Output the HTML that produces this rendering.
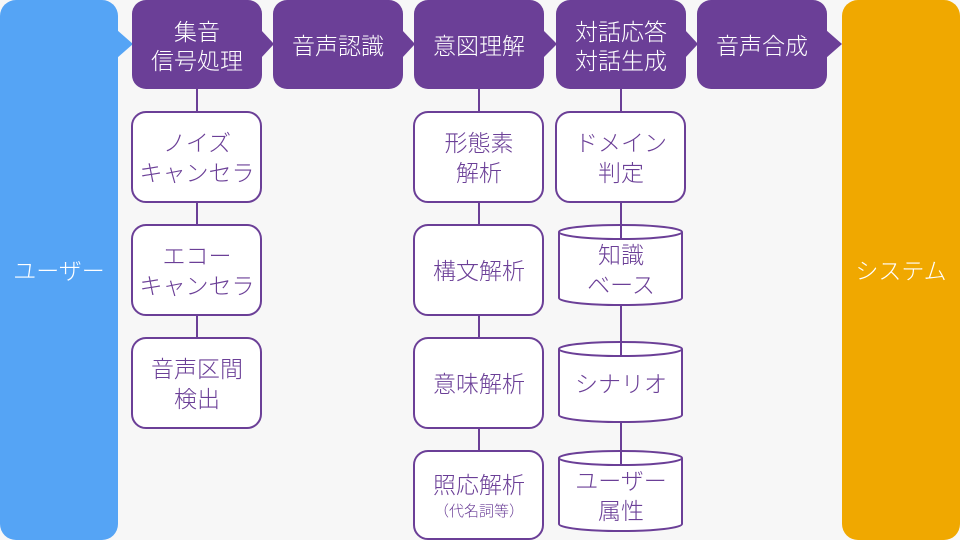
<!DOCTYPE html>
<html><head><meta charset="utf-8"><style>
html,body{margin:0;padding:0;background:#f7f7f7;}
svg{display:block;font-family:"Liberation Sans","Noto Sans CJK JP",sans-serif;}
</style></head><body>
<svg width="960" height="540" viewBox="0 0 960 540" xmlns="http://www.w3.org/2000/svg">
<rect width="960" height="540" fill="#f7f7f7"/>
<rect x="0" y="0" width="118" height="540" rx="16" fill="#55a4f5"/>
<rect x="842" y="0" width="118" height="540" rx="16" fill="#f0a800"/>
<polygon points="117,30 133,44 117,58" fill="#55a4f5"/>
<g fill="#6b3f97">
<rect x="132" y="0" width="130" height="89" rx="14"/>
<rect x="273" y="0" width="130" height="89" rx="14"/>
<rect x="414" y="0" width="130" height="89" rx="14"/>
<rect x="556" y="0" width="130" height="89" rx="14"/>
<rect x="697" y="0" width="130" height="89" rx="14"/>
<polygon points="261,30 274,44 261,58"/>
<polygon points="402,30 415,44 402,58"/>
<polygon points="543,30 557,44 543,58"/>
<polygon points="685,30 698,44 685,58"/>
<polygon points="826,30 842,44 826,58"/>
</g>
<g fill="#fff" font-size="23" text-anchor="middle" font-weight="300">
<text x="59" y="279">ユーザー</text>
<text x="901" y="279">システム</text>
<text x="197" y="40">集音</text><text x="197" y="69">信号処理</text>
<text x="338" y="54">音声認識</text>
<text x="479" y="54">意図理解</text>
<text x="621" y="40">対話応答</text><text x="621" y="69">対話生成</text>
<text x="762" y="54">音声合成</text>
</g>
<g stroke="#6b3f97" stroke-width="2" fill="none">
<line x1="197" y1="89" x2="197" y2="428"/>
<line x1="479" y1="89" x2="479" y2="540"/>
<line x1="621" y1="89" x2="621" y2="500"/>
</g>
<g stroke="#6b3f97" stroke-width="2" fill="#fff">
<rect x="132" y="112" width="129" height="90" rx="14"/>
<rect x="132" y="225" width="129" height="90" rx="14"/>
<rect x="132" y="338" width="129" height="90" rx="14"/>
<rect x="414" y="112" width="129" height="90" rx="14"/>
<rect x="414" y="225" width="129" height="90" rx="14"/>
<rect x="414" y="338" width="129" height="90" rx="14"/>
<rect x="414" y="451" width="129" height="88" rx="14"/>
<rect x="556" y="112" width="129" height="90" rx="14"/>
<path d="M559,232 L559,298 A61,7 0 0 0 682,298 L682,232 A61,7 0 0 0 559,232 Z"/>
<path d="M559,349 L559,415 A61,7 0 0 0 682,415 L682,349 A61,7 0 0 0 559,349 Z"/>
<path d="M559,458 L559,524 A61,7 0 0 0 682,524 L682,458 A61,7 0 0 0 559,458 Z"/>
</g>
<g stroke="#6b3f97" stroke-width="2" fill="none">
<path d="M559,232 A61,7 0 0 0 682,232"/>
<path d="M559,349 A61,7 0 0 0 682,349"/>
<path d="M559,458 A61,7 0 0 0 682,458"/>
<line x1="621" y1="202" x2="621" y2="239"/>
<line x1="621" y1="305" x2="621" y2="356"/>
<line x1="621" y1="422" x2="621" y2="465"/>
</g>
<g fill="#6b3f97" font-size="23" text-anchor="middle" font-weight="300">
<text x="197" y="151">ノイズ</text><text x="197" y="181">キャンセラ</text>
<text x="197" y="264">エコー</text><text x="197" y="294">キャンセラ</text>
<text x="197" y="377">音声区間</text><text x="197" y="407">検出</text>
<text x="479" y="151">形態素</text><text x="479" y="181">解析</text>
<text x="479" y="279">構文解析</text>
<text x="479" y="392">意味解析</text>
<text x="479" y="493">照応解析</text>
<text x="479" y="516" font-size="15">（代名詞等）</text>
<text x="621" y="151">ドメイン</text><text x="621" y="181">判定</text>
<text x="621" y="263">知識</text><text x="621" y="293">ベース</text>
<text x="621" y="392">シナリオ</text>
<text x="621" y="489">ユーザー</text><text x="621" y="519">属性</text>
</g>
</svg>
</body></html>
